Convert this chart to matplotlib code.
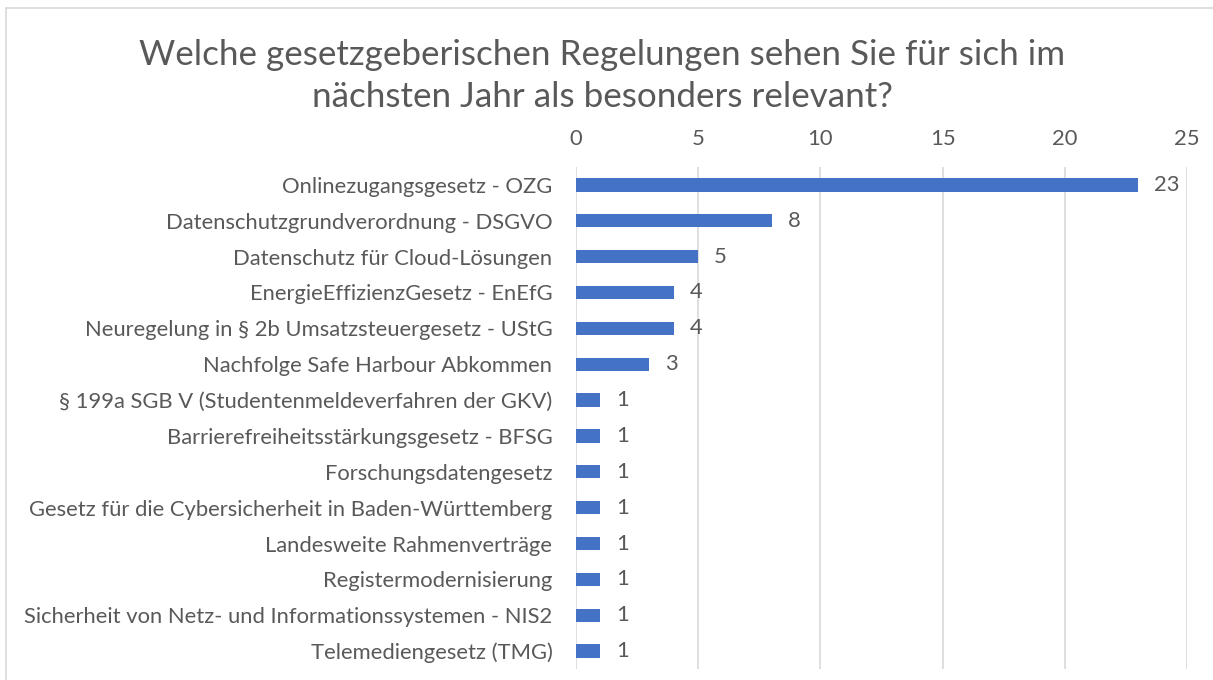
import matplotlib.pyplot as plt
from matplotlib.lines import Line2D

categories = [
    "Onlinezugangsgesetz - OZG",
    "Datenschutzgrundverordnung - DSGVO",
    "Datenschutz für Cloud-Lösungen",
    "EnergieEffizienzGesetz - EnEfG",
    "Neuregelung in § 2b Umsatzsteuergesetz - UStG",
    "Nachfolge Safe Harbour Abkommen",
    "§ 199a SGB V (Studentenmeldeverfahren der GKV)",
    "Barrierefreiheitsstärkungsgesetz - BFSG",
    "Forschungsdatengesetz",
    "Gesetz für die Cybersicherheit in Baden-Württemberg",
    "Landesweite Rahmenverträge",
    "Registermodernisierung",
    "Sicherheit von Netz- und Informationssystemen - NIS2",
    "Telemediengesetz (TMG)",
]
counts = [23, 8, 5, 4, 4, 3, 1, 1, 1, 1, 1, 1, 1, 1]
xticks = [0, 5, 10, 15, 20, 25]

TEXT = "#595959"
BLUE = "#4472C4"
GRID = "#D9D9D9"
plt.rcParams['font.family'] = ['Lato', 'DejaVu Sans']

W, H = 1213, 680
fig = plt.figure(figsize=(W / 100, H / 100), dpi=100)
ax = fig.add_axes([576 / W, 1 - 669 / H, (1187 - 576) / W, (669 - 167) / H])

ypos = list(range(len(categories)))
ax.barh(ypos, counts, height=0.37, color=BLUE, zorder=3)
for y, v in zip(ypos, counts):
    ax.text(v + 0.65, y, str(v), va='center', ha='left', fontsize=15.8, color=TEXT)

ax.set_xlim(0, 25)
ax.set_ylim(len(categories) - 0.5, -0.5)
ax.set_xticks(xticks)
ax.set_yticks(ypos)
ax.set_yticklabels(categories)
ax.xaxis.tick_top()
ax.tick_params(axis='x', length=0, pad=13, labelsize=15.8, labelcolor=TEXT)
ax.tick_params(axis='y', length=0, pad=17, labelsize=15.8, labelcolor=TEXT)
ax.grid(axis='x', color=GRID, linewidth=1.2, zorder=0)
for s in ['top', 'right', 'bottom', 'left']:
    ax.spines[s].set_visible(False)

fig.text(602 / W, 1 - 55 / H, "Welche gesetzgeberischen Regelungen sehen Sie für sich im",
         ha='center', va='center', fontsize=25.2, color=TEXT)
fig.text(602 / W, 1 - 97 / H, "nächsten Jahr als besonders relevant?",
         ha='center', va='center', fontsize=25.2, color=TEXT)

# chart border
fig.add_artist(Line2D([6 / W, 1], [1 - 8 / H, 1 - 8 / H], color=GRID, linewidth=1.2))
fig.add_artist(Line2D([6 / W, 6 / W], [0, 1 - 8 / H], color=GRID, linewidth=1.2))

fig.savefig("out.png", dpi=100)
